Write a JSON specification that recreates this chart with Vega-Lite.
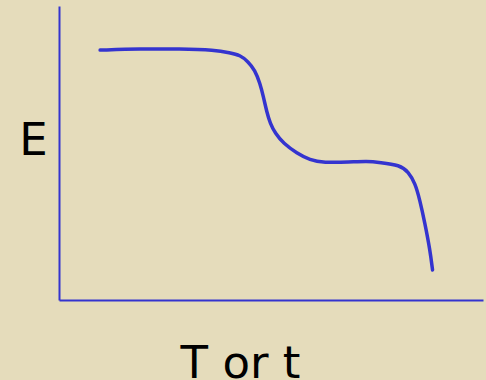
{
  "$schema": "https://vega.github.io/schema/vega-lite/v6.json",
  "width": 424,
  "height": 294,
  "autosize": "none",
  "padding": {"left": 59, "top": 6, "right": 3, "bottom": 80},
  "background": "#E5DCBB",
  "config": {
    "view": {"stroke": null},
    "axis": {
      "domainColor": "#3434CF",
      "domainWidth": 2,
      "ticks": false,
      "labels": false,
      "grid": false,
      "titleFont": "DejaVu Sans",
      "titleFontSize": 45,
      "titleFontWeight": "normal",
      "titleColor": "#000000"
    }
  },
  "data": {
    "values": [
      {"T": 0.97, "E": 8.50},
      {"T": 1.91, "E": 8.54},
      {"T": 2.85, "E": 8.54},
      {"T": 3.68, "E": 8.50},
      {"T": 4.03, "E": 8.41},
      {"T": 4.27, "E": 8.33},
      {"T": 4.46, "E": 8.11},
      {"T": 4.62, "E": 7.82},
      {"T": 4.74, "E": 7.37},
      {"T": 4.82, "E": 6.92},
      {"T": 4.90, "E": 6.40},
      {"T": 4.98, "E": 6.01},
      {"T": 5.10, "E": 5.67},
      {"T": 5.29, "E": 5.33},
      {"T": 5.61, "E": 4.99},
      {"T": 5.92, "E": 4.76},
      {"T": 6.23, "E": 4.67},
      {"T": 6.86, "E": 4.69},
      {"T": 7.26, "E": 4.72},
      {"T": 7.57, "E": 4.68},
      {"T": 8.04, "E": 4.59},
      {"T": 8.24, "E": 4.36},
      {"T": 8.40, "E": 3.97},
      {"T": 8.51, "E": 3.40},
      {"T": 8.63, "E": 2.61},
      {"T": 8.75, "E": 1.70},
      {"T": 8.81, "E": 1.02}
    ]
  },
  "mark": {
    "type": "line",
    "interpolate": "basis",
    "color": "#3434CF",
    "strokeWidth": 3.5,
    "strokeCap": "round"
  },
  "encoding": {
    "x": {
      "field": "T",
      "type": "quantitative",
      "scale": {"domain": [0, 10], "nice": false, "zero": false},
      "axis": {
        "title": "T or t",
        "titleX": 181,
        "titleY": 77,
        "titleAlign": "center",
        "titleBaseline": "alphabetic"
      }
    },
    "y": {
      "field": "E",
      "type": "quantitative",
      "scale": {"domain": [0, 10], "nice": false, "zero": false},
      "axis": {
        "title": "E",
        "titleAngle": 0,
        "titleX": -26,
        "titleY": 134,
        "titleAlign": "center",
        "titleBaseline": "middle"
      }
    }
  }
}
